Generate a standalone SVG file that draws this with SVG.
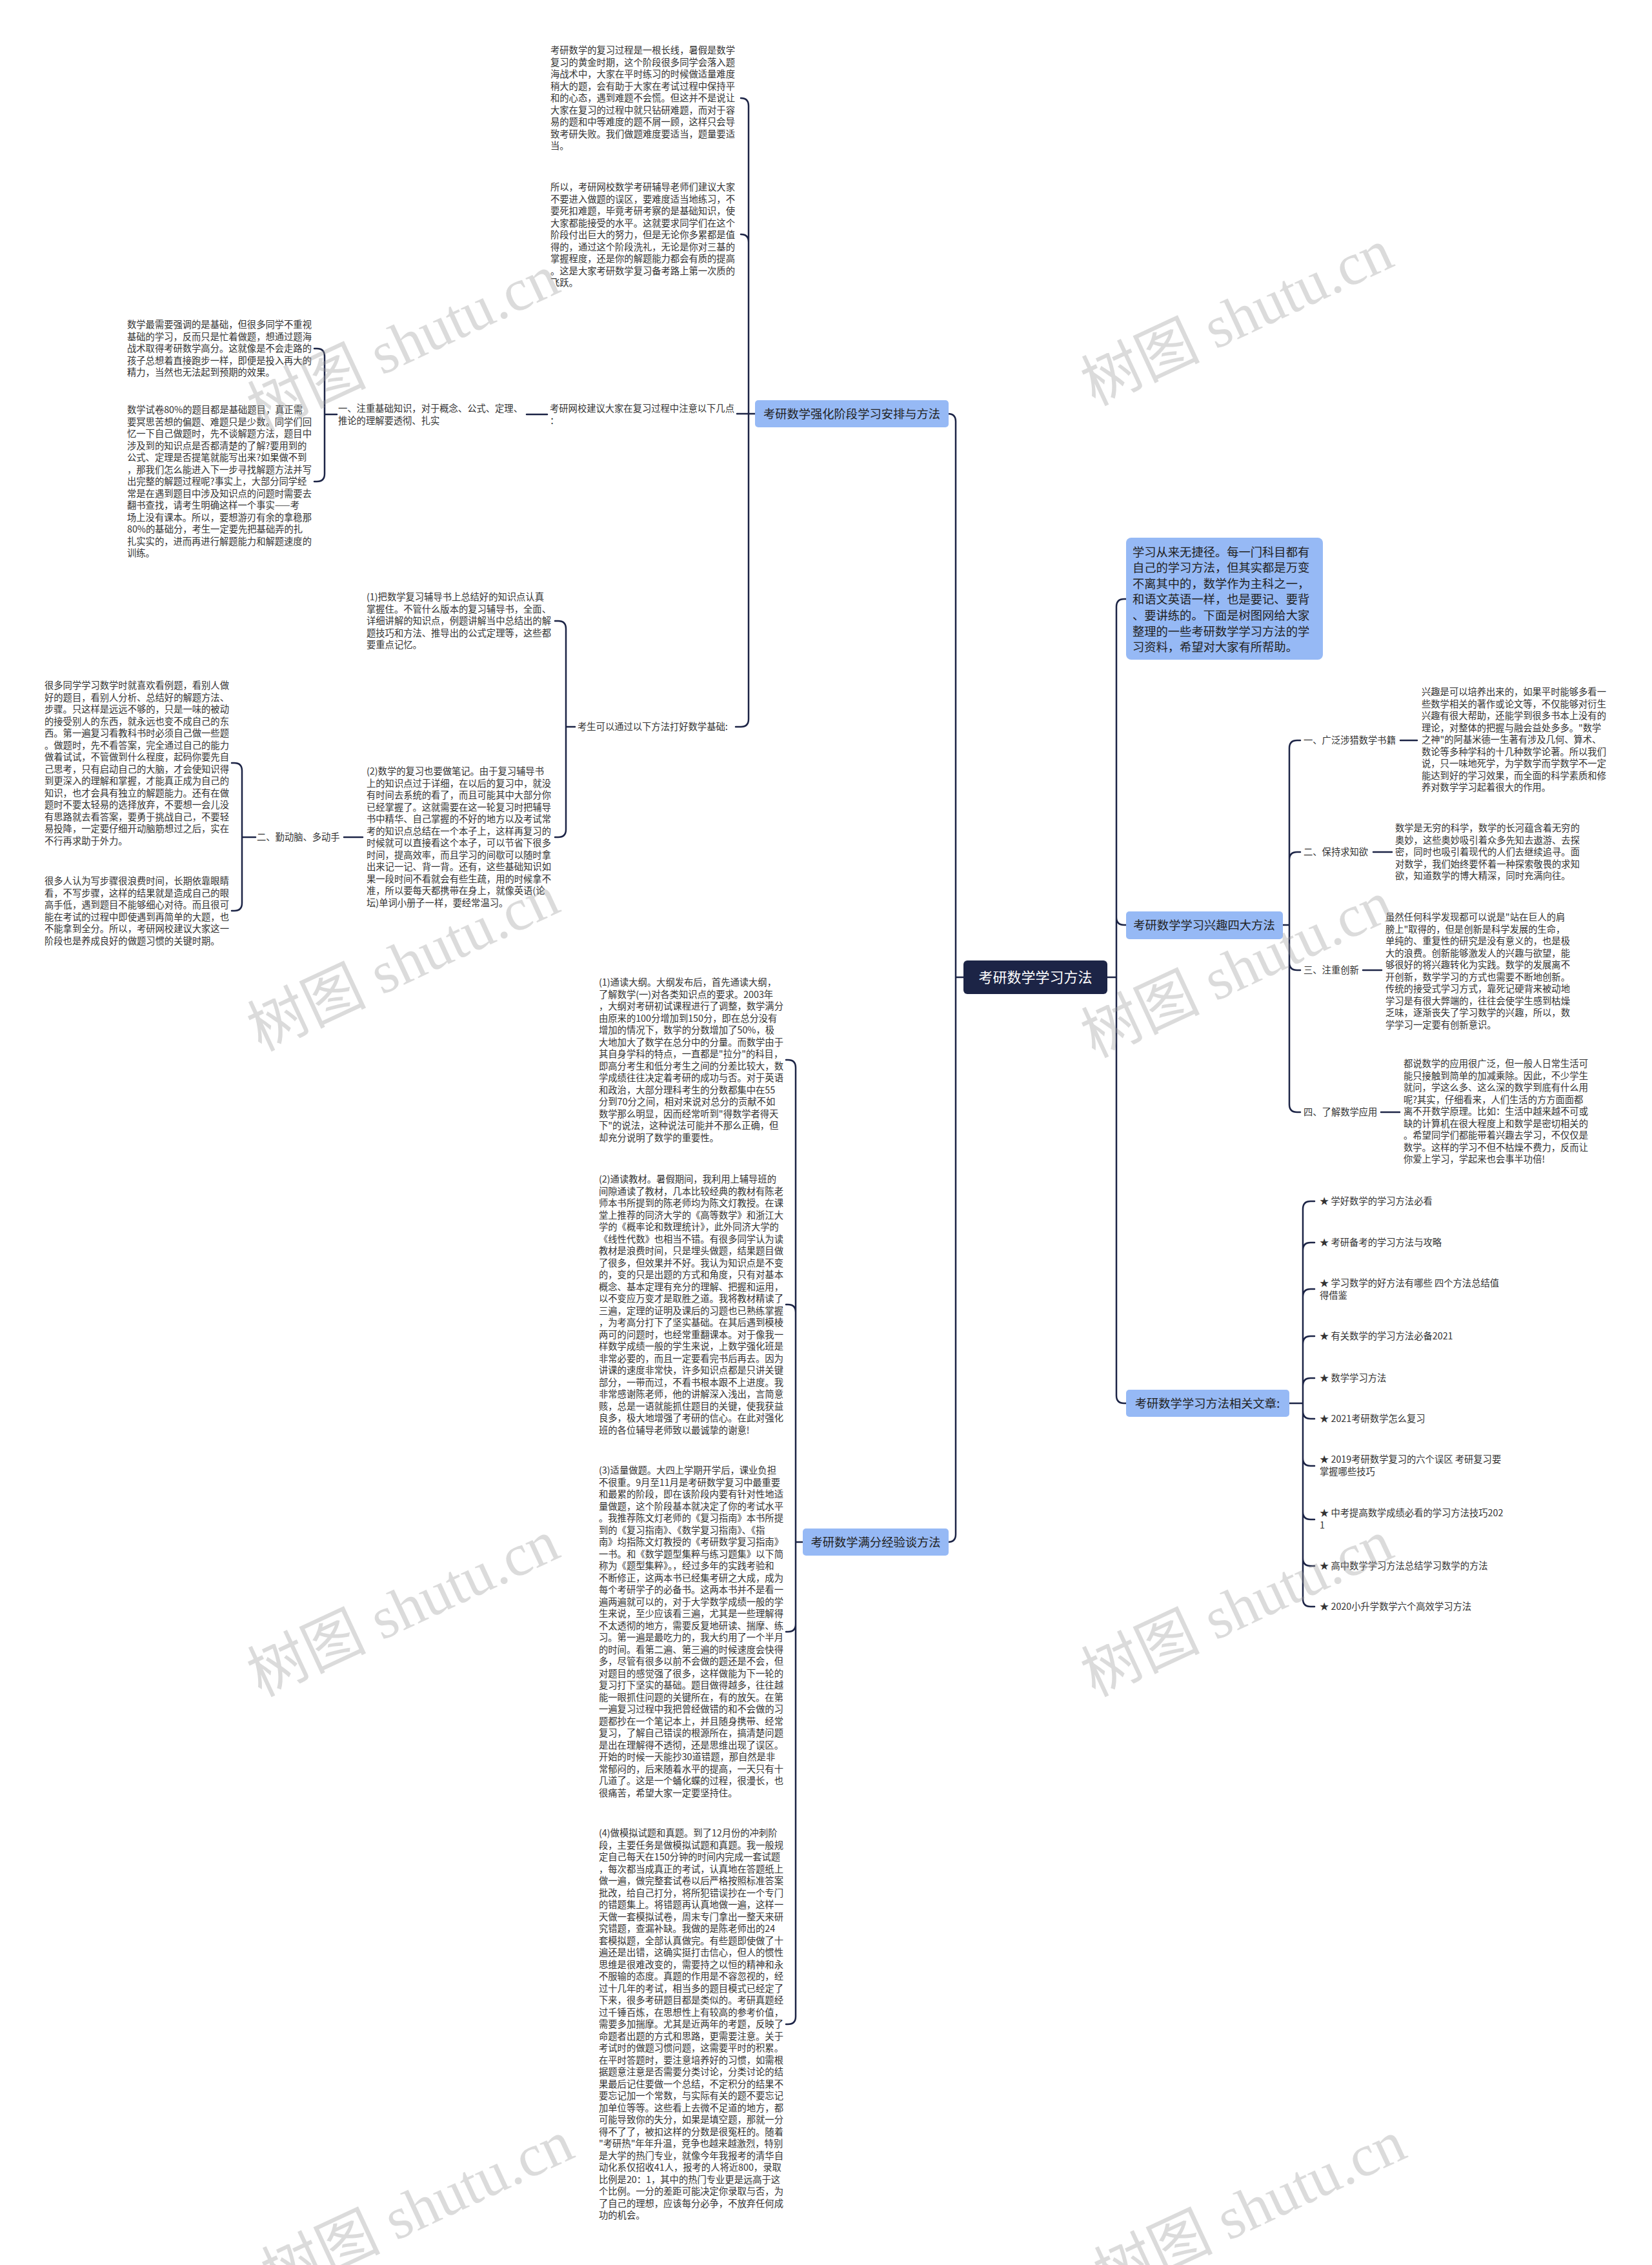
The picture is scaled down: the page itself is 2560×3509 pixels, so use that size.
<svg xmlns="http://www.w3.org/2000/svg" width="2560" height="3509" viewBox="0 0 2560 3509">
<style>
text{font-family:"Noto Sans CJK SC","Noto Sans",sans-serif}
.t{font-size:14.3px;fill:#333}
.n{font-size:18.3px;fill:#222}
.rt{font-size:22px;fill:#fff}
.c{fill:none;stroke:#1c2446;stroke-width:2.5;stroke-linecap:round}
.box{fill:#96b9f5}
.wm text{font-family:"Liberation Serif","Noto Sans CJK SC",serif;font-size:92px;fill:#9a9a9a;opacity:0.35}
</style>
<rect width="2560" height="3509" fill="#fff"/>
<g id="connectors">
<path class="c" d="M1493,1514 H1481 M1481,1514 V653 Q1481,641 1469,641 M1481,1514 V2377 Q1481,2389 1469,2389"/>
<path class="c" d="M1716,1514 H1730 M1730,1514 V940 Q1730,928 1742,928 H1745 M1730,1514 V1421 Q1730,1433 1742,1433 H1745 M1730,1514 V2162 Q1730,2174 1742,2174 H1745"/>
<path class="c" d="M1170,641 H1160 M1160,641 V164 Q1160,152 1148,152 M1160,641 V375 Q1160,363 1148,363 M1160,641 H1142 M1160,641 V1114 Q1160,1126 1148,1126 H1140"/>
<path class="c" d="M848,642 H816 M522,642 H503 M503,642 V552 Q503,540 491,540 H487 M503,642 V734 Q503,746 491,746 H487"/>
<path class="c" d="M891,1126 H877 M877,1126 V974 Q877,962 865,962 H860 M877,1126 V1285 Q877,1297 865,1297 H860"/>
<path class="c" d="M562,1297 H533 M396,1297 H375 M375,1297 V1194 Q375,1182 363,1182 H359 M375,1297 V1399 Q375,1411 363,1411 H359"/>
<path class="c" d="M1244,2389 H1233 M1233,2389 V1654 Q1233,1642 1221,1642 H1218 M1233,2389 V2033 Q1233,2021 1221,2021 H1218 M1233,2389 V2516 Q1233,2528 1221,2528 H1218 M1233,2389 V3124 Q1233,3136 1221,3136 H1218"/>
<path class="c" d="M1987,1433 H1998 M1998,1433 V1159 Q1998,1147 2010,1147 H2015 M1998,1433 V1332 Q1998,1320 2010,1320 H2015 M1998,1433 V1491 Q1998,1503 2010,1503 H2015 M1998,1433 V1711 Q1998,1723 2010,1723 H2015"/>
<path class="c" d="M2170,1147 H2196 M2128,1320 H2157 M2112,1503 H2141 M2140,1723 H2169"/>
<path class="c" d="M1998,2174 H2019 M2019,2174 V1873 Q2019,1861 2031,1861 H2037 M2019,2174 V1937 Q2019,1925 2031,1925 H2037 M2019,2174 V2009 Q2019,1997 2031,1997 H2037 M2019,2174 V2082 Q2019,2070 2031,2070 H2037 M2019,2174 V2147 Q2019,2135 2031,2135 H2037 M2019,2174 V2186 Q2019,2198 2031,2198 H2037 M2019,2174 V2259 Q2019,2271 2031,2271 H2037 M2019,2174 V2342 Q2019,2354 2031,2354 H2037 M2019,2174 V2414 Q2019,2426 2031,2426 H2037 M2019,2174 V2477 Q2019,2489 2031,2489 H2037"/>
</g>
<g id="root"><rect x="1493" y="1488" width="223" height="52" rx="6" fill="#1c2446"/><text class="rt" x="1604.5" y="1522" text-anchor="middle">考研数学学习方法</text></g>
<g id="b1"><rect class="box" x="1170" y="620" width="300" height="42" rx="5"/><text class="n" x="1320" y="647.5" text-anchor="middle">考研数学强化阶段学习安排与方法</text></g>
<g id="b2"><rect class="box" x="1244" y="2368" width="226" height="42" rx="5"/><text class="n" x="1357" y="2395.5" text-anchor="middle">考研数学满分经验谈方法</text></g>
<g id="intro"><rect class="box" x="1745" y="833" width="305" height="189" rx="8"/><text class="n" x="1755" y="861.5"><tspan x="1755">学习从来无捷径。每一门科目都有</tspan><tspan x="1755" dy="24.6">自己的学习方法，但其实都是万变</tspan><tspan x="1755" dy="24.6">不离其中的，数学作为主科之一，</tspan><tspan x="1755" dy="24.6">和语文英语一样，也是要记、要背</tspan><tspan x="1755" dy="24.6">、要讲练的。下面是树图网给大家</tspan><tspan x="1755" dy="24.6">整理的一些考研数学学习方法的学</tspan><tspan x="1755" dy="24.6">习资料，希望对大家有所帮助。</tspan></text></g>
<g id="b3"><rect class="box" x="1745" y="1412" width="243" height="43" rx="5"/><text class="n" x="1866" y="1440" text-anchor="middle">考研数学学习兴趣四大方法</text></g>
<g id="b4"><rect class="box" x="1745" y="2153" width="253" height="42" rx="5"/><text class="n" x="1871" y="2180.5" text-anchor="middle">考研数学学习方法相关文章:</text></g>
<g id="p1"><text class="t" x="853" y="83.3"><tspan x="853">考研数学的复习过程是一根长线，暑假是数学</tspan><tspan x="853" dy="18.5">复习的黄金时期，这个阶段很多同学会落入题</tspan><tspan x="853" dy="18.5">海战术中，大家在平时练习的时候做适量难度</tspan><tspan x="853" dy="18.5">稍大的题，会有助于大家在考试过程中保持平</tspan><tspan x="853" dy="18.5">和的心态，遇到难题不会慌。但这并不是说让</tspan><tspan x="853" dy="18.5">大家在复习的过程中就只钻研难题，而对于容</tspan><tspan x="853" dy="18.5">易的题和中等难度的题不屑一顾，这样只会导</tspan><tspan x="853" dy="18.5">致考研失败。我们做题难度要适当，题量要适</tspan><tspan x="853" dy="18.5">当。</tspan></text></g>
<g id="p2"><text class="t" x="853" y="295"><tspan x="853">所以，考研网校数学考研辅导老师们建议大家</tspan><tspan x="853" dy="18.5">不要进入做题的误区，要难度适当地练习，不</tspan><tspan x="853" dy="18.5">要死扣难题，毕竟考研考察的是基础知识，使</tspan><tspan x="853" dy="18.5">大家都能接受的水平。这就要求同学们在这个</tspan><tspan x="853" dy="18.5">阶段付出巨大的努力，但是无论你多累都是值</tspan><tspan x="853" dy="18.5">得的，通过这个阶段洗礼，无论是你对三基的</tspan><tspan x="853" dy="18.5">掌握程度，还是你的解题能力都会有质的提高</tspan><tspan x="853" dy="18.5">。这是大家考研数学复习备考路上第一次质的</tspan><tspan x="853" dy="18.5">飞跃。</tspan></text></g>
<g id="p3"><text class="t" x="852" y="638"><tspan x="852">考研网校建议大家在复习过程中注意以下几点</tspan><tspan x="852" dy="18.5">：</tspan></text></g>
<g id="p4"><text class="t" x="524" y="638"><tspan x="524">一、注重基础知识，对于概念、公式、定理、</tspan><tspan x="524" dy="18.5">推论的理解要透彻、扎实</tspan></text></g>
<g id="p5"><text class="t" x="197" y="508"><tspan x="197">数学最需要强调的是基础，但很多同学不重视</tspan><tspan x="197" dy="18.5">基础的学习，反而只是忙着做题，想通过题海</tspan><tspan x="197" dy="18.5">战术取得考研数学高分。这就像是不会走路的</tspan><tspan x="197" dy="18.5">孩子总想着直接跑步一样，即便是投入再大的</tspan><tspan x="197" dy="18.5">精力，当然也无法起到预期的效果。</tspan></text></g>
<g id="p6"><text class="t" x="197" y="640"><tspan x="197">数学试卷80%的题目都是基础题目，真正需</tspan><tspan x="197" dy="18.5">要冥思苦想的偏题、难题只是少数。同学们回</tspan><tspan x="197" dy="18.5">忆一下自己做题时，先不谈解题方法，题目中</tspan><tspan x="197" dy="18.5">涉及到的知识点是否都清楚的了解?要用到的</tspan><tspan x="197" dy="18.5">公式、定理是否提笔就能写出来?如果做不到</tspan><tspan x="197" dy="18.5">，那我们怎么能进入下一步寻找解题方法并写</tspan><tspan x="197" dy="18.5">出完整的解题过程呢?事实上，大部分同学经</tspan><tspan x="197" dy="18.5">常是在遇到题目中涉及知识点的问题时需要去</tspan><tspan x="197" dy="18.5">翻书查找，请考生明确这样一个事实——考</tspan><tspan x="197" dy="18.5">场上没有课本。所以，要想游刃有余的拿稳那</tspan><tspan x="197" dy="18.5">80%的基础分，考生一定要先把基础弄的扎</tspan><tspan x="197" dy="18.5">扎实实的，进而再进行解题能力和解题速度的</tspan><tspan x="197" dy="18.5">训练。</tspan></text></g>
<g id="p7"><text class="t" x="895" y="1131">考生可以通过以下方法打好数学基础:</text></g>
<g id="p8"><text class="t" x="568" y="930"><tspan x="568">(1)把数学复习辅导书上总结好的知识点认真</tspan><tspan x="568" dy="18.5">掌握住。不管什么版本的复习辅导书，全面、</tspan><tspan x="568" dy="18.5">详细讲解的知识点，例题讲解当中总结出的解</tspan><tspan x="568" dy="18.5">题技巧和方法、推导出的公式定理等，这些都</tspan><tspan x="568" dy="18.5">要重点记忆。</tspan></text></g>
<g id="p9"><text class="t" x="568" y="1200"><tspan x="568">(2)数学的复习也要做笔记。由于复习辅导书</tspan><tspan x="568" dy="18.5">上的知识点过于详细，在以后的复习中，就没</tspan><tspan x="568" dy="18.5">有时间去系统的看了，而且可能其中大部分你</tspan><tspan x="568" dy="18.5">已经掌握了。这就需要在这一轮复习时把辅导</tspan><tspan x="568" dy="18.5">书中精华、自己掌握的不好的地方以及考试常</tspan><tspan x="568" dy="18.5">考的知识点总结在一个本子上，这样再复习的</tspan><tspan x="568" dy="18.5">时候就可以直接看这个本子，可以节省下很多</tspan><tspan x="568" dy="18.5">时间，提高效率，而且学习的间歇可以随时拿</tspan><tspan x="568" dy="18.5">出来记一记、背一背。还有，这些基础知识如</tspan><tspan x="568" dy="18.5">果一段时间不看就会有些生疏，用的时候拿不</tspan><tspan x="568" dy="18.5">准，所以要每天都携带在身上，就像英语(论</tspan><tspan x="568" dy="18.5">坛)单词小册子一样，要经常温习。</tspan></text></g>
<g id="p10"><text class="t" x="398" y="1302">二、勤动脑、多动手</text></g>
<g id="p11"><text class="t" x="69" y="1067"><tspan x="69">很多同学学习数学时就喜欢看例题，看别人做</tspan><tspan x="69" dy="18.5">好的题目，看别人分析、总结好的解题方法、</tspan><tspan x="69" dy="18.5">步骤。只这样是远远不够的，只是一味的被动</tspan><tspan x="69" dy="18.5">的接受别人的东西，就永远也变不成自己的东</tspan><tspan x="69" dy="18.5">西。第一遍复习看教科书时必须自己做一些题</tspan><tspan x="69" dy="18.5">。做题时，先不看答案，完全通过自己的能力</tspan><tspan x="69" dy="18.5">做着试试，不管做到什么程度，起码你要先自</tspan><tspan x="69" dy="18.5">己思考，只有启动自己的大脑，才会使知识得</tspan><tspan x="69" dy="18.5">到更深入的理解和掌握，才能真正成为自己的</tspan><tspan x="69" dy="18.5">知识，也才会具有独立的解题能力。还有在做</tspan><tspan x="69" dy="18.5">题时不要太轻易的选择放弃，不要想一会儿没</tspan><tspan x="69" dy="18.5">有思路就去看答案，要勇于挑战自己，不要轻</tspan><tspan x="69" dy="18.5">易投降，一定要仔细开动脑筋想过之后，实在</tspan><tspan x="69" dy="18.5">不行再求助于外力。</tspan></text></g>
<g id="p12"><text class="t" x="69" y="1370"><tspan x="69">很多人认为写步骤很浪费时间，长期依靠眼睛</tspan><tspan x="69" dy="18.5">看，不写步骤，这样的结果就是造成自己的眼</tspan><tspan x="69" dy="18.5">高手低，遇到题目不能够细心对待。而且很可</tspan><tspan x="69" dy="18.5">能在考试的过程中即使遇到再简单的大题，也</tspan><tspan x="69" dy="18.5">不能拿到全分。所以，考研网校建议大家这一</tspan><tspan x="69" dy="18.5">阶段也是养成良好的做题习惯的关键时期。</tspan></text></g>
<g id="q1"><text class="t" x="928" y="1527"><tspan x="928">(1)通读大纲。大纲发布后，首先通读大纲，</tspan><tspan x="928" dy="18.5">了解数学(一)对各类知识点的要求。2003年</tspan><tspan x="928" dy="18.5">，大纲对考研初试课程进行了调整，数学满分</tspan><tspan x="928" dy="18.5">由原来的100分增加到150分，即在总分没有</tspan><tspan x="928" dy="18.5">增加的情况下，数学的分数增加了50%，极</tspan><tspan x="928" dy="18.5">大地加大了数学在总分中的分量。而数学由于</tspan><tspan x="928" dy="18.5">其自身学科的特点，一直都是"拉分"的科目，</tspan><tspan x="928" dy="18.5">即高分考生和低分考生之间的分差比较大，数</tspan><tspan x="928" dy="18.5">学成绩往往决定着考研的成功与否。对于英语</tspan><tspan x="928" dy="18.5">和政治，大部分理科考生的分数都集中在55</tspan><tspan x="928" dy="18.5">分到70分之间，相对来说对总分的贡献不如</tspan><tspan x="928" dy="18.5">数学那么明显，因而经常听到"得数学者得天</tspan><tspan x="928" dy="18.5">下"的说法，这种说法可能并不那么正确，但</tspan><tspan x="928" dy="18.5">却充分说明了数学的重要性。</tspan></text></g>
<g id="q2"><text class="t" x="928" y="1832"><tspan x="928">(2)通读教材。暑假期间，我利用上辅导班的</tspan><tspan x="928" dy="18.5">间隙通读了教材，几本比较经典的教材有陈老</tspan><tspan x="928" dy="18.5">师本书所提到的陈老师均为陈文灯教授。在课</tspan><tspan x="928" dy="18.5">堂上推荐的同济大学的《高等数学》和浙江大</tspan><tspan x="928" dy="18.5">学的《概率论和数理统计》，此外同济大学的</tspan><tspan x="928" dy="18.5">《线性代数》也相当不错。有很多同学认为读</tspan><tspan x="928" dy="18.5">教材是浪费时间，只是埋头做题，结果题目做</tspan><tspan x="928" dy="18.5">了很多，但效果并不好。我认为知识点是不变</tspan><tspan x="928" dy="18.5">的，变的只是出题的方式和角度，只有对基本</tspan><tspan x="928" dy="18.5">概念、基本定理有充分的理解、把握和运用，</tspan><tspan x="928" dy="18.5">以不变应万变才是取胜之道。我将教材精读了</tspan><tspan x="928" dy="18.5">三遍，定理的证明及课后的习题也已熟练掌握</tspan><tspan x="928" dy="18.5">，为考高分打下了坚实基础。在其后遇到模棱</tspan><tspan x="928" dy="18.5">两可的问题时，也经常重翻课本。对于像我一</tspan><tspan x="928" dy="18.5">样数学成绩一般的学生来说，上数学强化班是</tspan><tspan x="928" dy="18.5">非常必要的，而且一定要看完书后再去。因为</tspan><tspan x="928" dy="18.5">讲课的速度非常快，许多知识点都是只讲关键</tspan><tspan x="928" dy="18.5">部分，一带而过，不看书根本跟不上进度。我</tspan><tspan x="928" dy="18.5">非常感谢陈老师，他的讲解深入浅出，言简意</tspan><tspan x="928" dy="18.5">赅，总是一语就能抓住题目的关键，使我获益</tspan><tspan x="928" dy="18.5">良多，极大地增强了考研的信心。在此对强化</tspan><tspan x="928" dy="18.5">班的各位辅导老师致以最诚挚的谢意!</tspan></text></g>
<g id="q3"><text class="t" x="928" y="2283"><tspan x="928">(3)适量做题。大四上学期开学后，课业负担</tspan><tspan x="928" dy="18.5">不很重。9月至11月是考研数学复习中最重要</tspan><tspan x="928" dy="18.5">和最累的阶段，即在该阶段内要有针对性地适</tspan><tspan x="928" dy="18.5">量做题，这个阶段基本就决定了你的考试水平</tspan><tspan x="928" dy="18.5">。我推荐陈文灯老师的《复习指南》本书所提</tspan><tspan x="928" dy="18.5">到的《复习指南》、《数学复习指南》、《指</tspan><tspan x="928" dy="18.5">南》均指陈文灯教授的《考研数学复习指南》</tspan><tspan x="928" dy="18.5">一书。和《数学题型集粹与练习题集》以下简</tspan><tspan x="928" dy="18.5">称为《题型集粹》。，经过多年的实践考验和</tspan><tspan x="928" dy="18.5">不断修正，这两本书已经集考研之大成，成为</tspan><tspan x="928" dy="18.5">每个考研学子的必备书。这两本书并不是看一</tspan><tspan x="928" dy="18.5">遍两遍就可以的，对于大学数学成绩一般的学</tspan><tspan x="928" dy="18.5">生来说，至少应该看三遍，尤其是一些理解得</tspan><tspan x="928" dy="18.5">不太透彻的地方，需要反复地研读、揣摩、练</tspan><tspan x="928" dy="18.5">习。第一遍是最吃力的，我大约用了一个半月</tspan><tspan x="928" dy="18.5">的时间。看第二遍、第三遍的时候速度会快得</tspan><tspan x="928" dy="18.5">多，尽管有很多以前不会做的题还是不会，但</tspan><tspan x="928" dy="18.5">对题目的感觉强了很多，这样做能为下一轮的</tspan><tspan x="928" dy="18.5">复习打下坚实的基础。题目做得越多，往往越</tspan><tspan x="928" dy="18.5">能一眼抓住问题的关键所在，有的放矢。在第</tspan><tspan x="928" dy="18.5">一遍复习过程中我把曾经做错的和不会做的习</tspan><tspan x="928" dy="18.5">题都抄在一个笔记本上，并且随身携带、经常</tspan><tspan x="928" dy="18.5">复习，了解自己错误的根源所在，搞清楚问题</tspan><tspan x="928" dy="18.5">是出在理解得不透彻，还是思维出现了误区。</tspan><tspan x="928" dy="18.5">开始的时候一天能抄30道错题，那自然是非</tspan><tspan x="928" dy="18.5">常郁闷的，后来随着水平的提高，一天只有十</tspan><tspan x="928" dy="18.5">几道了。这是一个蛹化蝶的过程，很漫长，也</tspan><tspan x="928" dy="18.5">很痛苦，希望大家一定要坚持住。</tspan></text></g>
<g id="q4"><text class="t" x="928" y="2845"><tspan x="928">(4)做模拟试题和真题。到了12月份的冲刺阶</tspan><tspan x="928" dy="18.5">段，主要任务是做模拟试题和真题。我一般规</tspan><tspan x="928" dy="18.5">定自己每天在150分钟的时间内完成一套试题</tspan><tspan x="928" dy="18.5">，每次都当成真正的考试，认真地在答题纸上</tspan><tspan x="928" dy="18.5">做一遍，做完整套试卷以后严格按照标准答案</tspan><tspan x="928" dy="18.5">批改，给自己打分，将所犯错误抄在一个专门</tspan><tspan x="928" dy="18.5">的错题集上。将错题再认真地做一遍，这样一</tspan><tspan x="928" dy="18.5">天做一套模拟试卷，周末专门拿出一整天来研</tspan><tspan x="928" dy="18.5">究错题，查漏补缺。我做的是陈老师出的24</tspan><tspan x="928" dy="18.5">套模拟题，全部认真做完。有些题即使做了十</tspan><tspan x="928" dy="18.5">遍还是出错，这确实挺打击信心，但人的惯性</tspan><tspan x="928" dy="18.5">思维是很难改变的，需要持之以恒的精神和永</tspan><tspan x="928" dy="18.5">不服输的态度。真题的作用是不容忽视的，经</tspan><tspan x="928" dy="18.5">过十几年的考试，相当多的题目模式已经定了</tspan><tspan x="928" dy="18.5">下来，很多考研题目都是类似的。考研真题经</tspan><tspan x="928" dy="18.5">过千锤百炼，在思想性上有较高的参考价值，</tspan><tspan x="928" dy="18.5">需要多加揣摩。尤其是近两年的考题，反映了</tspan><tspan x="928" dy="18.5">命题者出题的方式和思路，更需要注意。关于</tspan><tspan x="928" dy="18.5">考试时的做题习惯问题，这需要平时的积累。</tspan><tspan x="928" dy="18.5">在平时答题时，要注意培养好的习惯，如需根</tspan><tspan x="928" dy="18.5">据题意注意是否需要分类讨论，分类讨论的结</tspan><tspan x="928" dy="18.5">果最后记住要做一个总结，不定积分的结果不</tspan><tspan x="928" dy="18.5">要忘记加一个常数，与实际有关的题不要忘记</tspan><tspan x="928" dy="18.5">加单位等等。这些看上去微不足道的地方，都</tspan><tspan x="928" dy="18.5">可能导致你的失分，如果是填空题，那就一分</tspan><tspan x="928" dy="18.5">得不了了，被扣这样的分数是很冤枉的。随着</tspan><tspan x="928" dy="18.5">"考研热"年年升温，竞争也越来越激烈，特别</tspan><tspan x="928" dy="18.5">是大学的热门专业，就像今年我报考的清华自</tspan><tspan x="928" dy="18.5">动化系仅招收41人，报考的人将近800，录取</tspan><tspan x="928" dy="18.5">比例是20：1，其中的热门专业更是远高于这</tspan><tspan x="928" dy="18.5">个比例。一分的差距可能决定你录取与否，为</tspan><tspan x="928" dy="18.5">了自己的理想，应该每分必争，不放弃任何成</tspan><tspan x="928" dy="18.5">功的机会。</tspan></text></g>
<g id="r1l"><text class="t" x="2020" y="1152">一、广泛涉猎数学书籍</text></g>
<g id="r1"><text class="t" x="2203" y="1077"><tspan x="2203">兴趣是可以培养出来的，如果平时能够多看一</tspan><tspan x="2203" dy="18.5">些数学相关的著作或论文等，不仅能够对衍生</tspan><tspan x="2203" dy="18.5">兴趣有很大帮助，还能学到很多书本上没有的</tspan><tspan x="2203" dy="18.5">理论，对整体的把握与融会益处多多。"数学</tspan><tspan x="2203" dy="18.5">之神"的阿基米德一生著有涉及几何、算术、</tspan><tspan x="2203" dy="18.5">数论等多种学科的十几种数学论著。所以我们</tspan><tspan x="2203" dy="18.5">说，只一味地死学，为学数学而学数学不一定</tspan><tspan x="2203" dy="18.5">能达到好的学习效果，而全面的科学素质和修</tspan><tspan x="2203" dy="18.5">养对数学学习起着很大的作用。</tspan></text></g>
<g id="r2l"><text class="t" x="2020" y="1325">二、保持求知欲</text></g>
<g id="r2"><text class="t" x="2162" y="1288"><tspan x="2162">数学是无穷的科学，数学的长河蕴含着无穷的</tspan><tspan x="2162" dy="18.5">奥妙，这些奥妙吸引着众多先知去遨游、去探</tspan><tspan x="2162" dy="18.5">密，同时也吸引着现代的人们去继续追寻。面</tspan><tspan x="2162" dy="18.5">对数学，我们始终要怀着一种探索敬畏的求知</tspan><tspan x="2162" dy="18.5">欲，知道数学的博大精深，同时充满向往。</tspan></text></g>
<g id="r3l"><text class="t" x="2020" y="1508">三、注重创新</text></g>
<g id="r3"><text class="t" x="2147" y="1426"><tspan x="2147">虽然任何科学发现都可以说是"站在巨人的肩</tspan><tspan x="2147" dy="18.5">膀上"取得的，但是创新是科学发展的生命，</tspan><tspan x="2147" dy="18.5">单纯的、重复性的研究是没有意义的，也是极</tspan><tspan x="2147" dy="18.5">大的浪费。创新能够激发人的兴趣与欲望，能</tspan><tspan x="2147" dy="18.5">够很好的将兴趣转化为实践。数学的发展离不</tspan><tspan x="2147" dy="18.5">开创新，数学学习的方式也需要不断地创新。</tspan><tspan x="2147" dy="18.5">传统的接受式学习方式，靠死记硬背来被动地</tspan><tspan x="2147" dy="18.5">学习是有很大弊端的，往往会使学生感到枯燥</tspan><tspan x="2147" dy="18.5">乏味，逐渐丧失了学习数学的兴趣，所以，数</tspan><tspan x="2147" dy="18.5">学学习一定要有创新意识。</tspan></text></g>
<g id="r4l"><text class="t" x="2020" y="1728">四、了解数学应用</text></g>
<g id="r4"><text class="t" x="2175" y="1653"><tspan x="2175">都说数学的应用很广泛，但一般人日常生活可</tspan><tspan x="2175" dy="18.5">能只接触到简单的加减乘除。因此，不少学生</tspan><tspan x="2175" dy="18.5">就问，学这么多、这么深的数学到底有什么用</tspan><tspan x="2175" dy="18.5">呢?其实，仔细看来，人们生活的方方面面都</tspan><tspan x="2175" dy="18.5">离不开数学原理。比如：生活中越来越不可或</tspan><tspan x="2175" dy="18.5">缺的计算机在很大程度上和数学是密切相关的</tspan><tspan x="2175" dy="18.5">。希望同学们都能带着兴趣去学习，不仅仅是</tspan><tspan x="2175" dy="18.5">数学。这样的学习不但不枯燥不费力，反而让</tspan><tspan x="2175" dy="18.5">你爱上学习，学起来也会事半功倍!</tspan></text></g>
<g id="related" class="t">
<text x="2045" y="1866">★ 学好数学的学习方法必看</text>
<text x="2045" y="1930">★ 考研备考的学习方法与攻略</text>
<text x="2045" y="1993"><tspan x="2045">★ 学习数学的好方法有哪些 四个方法总结值</tspan><tspan x="2045" dy="19">得借鉴</tspan></text>
<text x="2045" y="2075">★ 有关数学的学习方法必备2021</text>
<text x="2045" y="2140">★ 数学学习方法</text>
<text x="2045" y="2203">★ 2021考研数学怎么复习</text>
<text x="2045" y="2266"><tspan x="2045">★ 2019考研数学复习的六个误区 考研复习要</tspan><tspan x="2045" dy="19">掌握哪些技巧</tspan></text>
<text x="2045" y="2349"><tspan x="2045">★ 中考提高数学成绩必看的学习方法技巧202</tspan><tspan x="2045" dy="19">1</tspan></text>
<text x="2045" y="2431">★ 高中数学学习方法总结学习数学的方法</text>
<text x="2045" y="2494">★ 2020小升学数学六个高效学习方法</text>
</g>
<g id="watermarks" class="wm">
<text transform="translate(638,560) rotate(-25)" text-anchor="middle">树图 shutu.cn</text>
<text transform="translate(1930,520) rotate(-25)" text-anchor="middle">树图 shutu.cn</text>
<text transform="translate(638,1520) rotate(-25)" text-anchor="middle">树图 shutu.cn</text>
<text transform="translate(1930,1530) rotate(-25)" text-anchor="middle">树图 shutu.cn</text>
<text transform="translate(638,2520) rotate(-25)" text-anchor="middle">树图 shutu.cn</text>
<text transform="translate(1930,2520) rotate(-25)" text-anchor="middle">树图 shutu.cn</text>
<text transform="translate(660,3450) rotate(-25)" text-anchor="middle">树图 shutu.cn</text>
<text transform="translate(1950,3450) rotate(-25)" text-anchor="middle">树图 shutu.cn</text>
</g>
</svg>
